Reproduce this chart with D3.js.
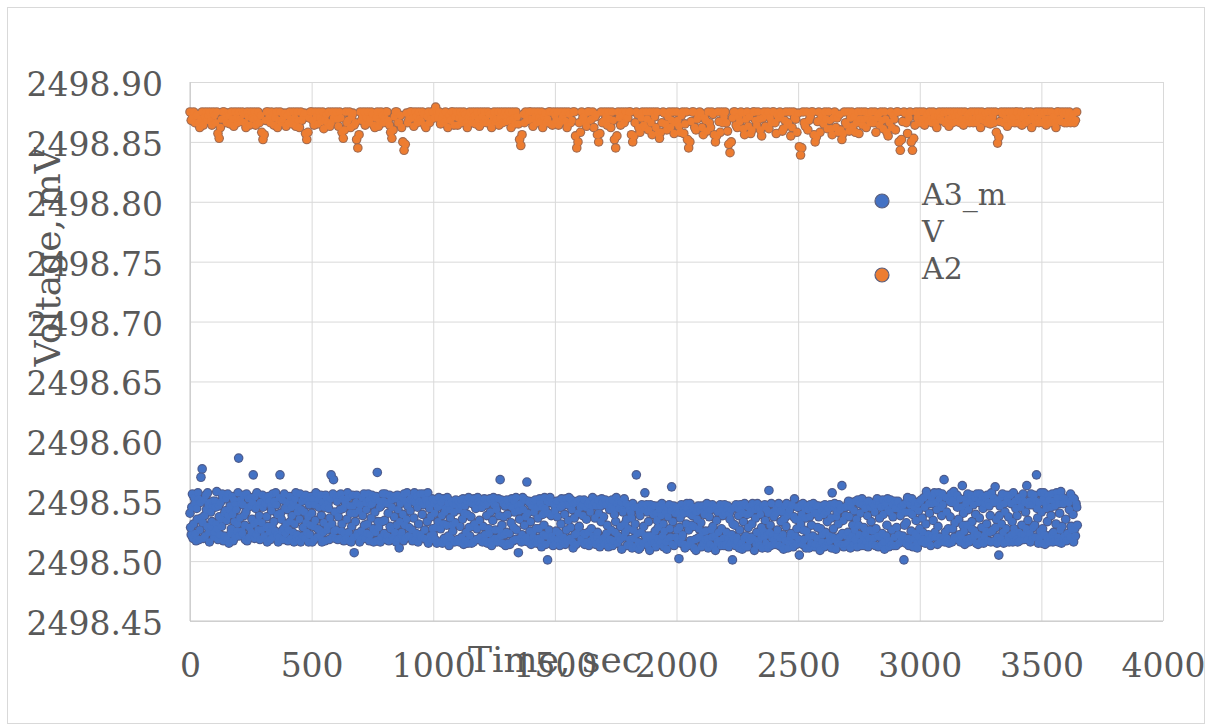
<!DOCTYPE html>
<html>
<head>
<meta charset="utf-8">
<script src="https://cdn.jsdelivr.net/npm/d3@7"></script>
<style>
  body { margin: 0; background: #fff; }
  svg text { font-family: "DejaVu Serif", serif; fill: #595959; }
</style>
</head>
<body>
<div id="chart"></div>
<script>
// A3_mV, one reading every 2.5 s (mV), 40 readings per line = 100 s
const a3Step = 2.5;
const a3Values = [
  2498.540,2498.528,2498.522,2498.545,2498.556,2498.519,2498.531,2498.553,2498.548,2498.523,2498.517,2498.544,2498.535,2498.557,2498.552,2498.518,2498.526,2498.549,2498.570,2498.536,2498.577,2498.532,2498.519,2498.551,2498.538,2498.521,2498.555,2498.543,2498.529,2498.557,2498.547,2498.524,2498.516,2498.549,2498.541,2498.529,2498.533,2498.546,2498.550,2498.520,
  2498.524,2498.550,2498.545,2498.531,2498.558,2498.527,2498.518,2498.546,2498.537,2498.522,2498.549,2498.535,2498.529,2498.556,2498.553,2498.517,2498.521,2498.540,2498.542,2498.552,2498.534,2498.519,2498.556,2498.538,2498.515,2498.543,2498.546,2498.523,2498.527,2498.554,2498.539,2498.517,2498.551,2498.533,2498.520,2498.547,2498.543,2498.525,2498.531,2498.557,
  2498.586,2498.521,2498.536,2498.551,2498.548,2498.525,2498.523,2498.547,2498.555,2498.538,2498.530,2498.518,2498.541,2498.556,2498.517,2498.545,2498.552,2498.520,2498.528,2498.553,2498.546,2498.524,2498.535,2498.549,2498.572,2498.531,2498.519,2498.554,2498.544,2498.522,2498.557,2498.533,2498.526,2498.547,2498.538,2498.518,2498.549,2498.526,2498.532,2498.555,
  2498.545,2498.519,2498.521,2498.548,2498.553,2498.528,2498.537,2498.516,2498.529,2498.554,2498.550,2498.524,2498.518,2498.546,2498.542,2498.529,2498.556,2498.520,2498.533,2498.550,2498.525,2498.557,2498.547,2498.522,2498.539,2498.516,2498.520,2498.553,2498.572,2498.540,2498.535,2498.525,2498.551,2498.518,2498.527,2498.556,2498.544,2498.523,2498.531,2498.549,
  2498.543,2498.517,2498.526,2498.549,2498.554,2498.533,2498.519,2498.545,2498.538,2498.524,2498.549,2498.516,2498.531,2498.552,2498.557,2498.520,2498.522,2498.541,2498.545,2498.518,2498.535,2498.556,2498.516,2498.543,2498.550,2498.521,2498.528,2498.553,2498.541,2498.519,2498.555,2498.532,2498.524,2498.550,2498.537,2498.516,2498.547,2498.522,2498.530,2498.554,
  2498.540,2498.516,2498.552,2498.529,2498.518,2498.547,2498.534,2498.557,2498.556,2498.520,2498.527,2498.551,2498.545,2498.526,2498.521,2498.555,2498.538,2498.516,2498.549,2498.524,2498.532,2498.545,2498.517,2498.555,2498.553,2498.526,2498.529,2498.548,2498.544,2498.518,2498.536,2498.552,2498.572,2498.531,2498.520,2498.556,2498.568,2498.525,2498.541,2498.519,
  2498.526,2498.553,2498.550,2498.518,2498.537,2498.555,2498.519,2498.543,2498.556,2498.525,2498.531,2498.552,2498.544,2498.517,2498.523,2498.550,2498.548,2498.519,2498.535,2498.557,2498.553,2498.524,2498.517,2498.546,2498.540,2498.516,2498.529,2498.555,2498.546,2498.520,2498.507,2498.540,2498.533,2498.549,2498.555,2498.523,2498.521,2498.548,2498.542,2498.516,
  2498.547,2498.518,2498.525,2498.553,2498.538,2498.520,2498.556,2498.530,2498.519,2498.549,2498.543,2498.523,2498.531,2498.556,2498.551,2498.517,2498.522,2498.547,2498.536,2498.555,2498.548,2498.527,2498.516,2498.552,2498.541,2498.524,2498.554,2498.517,2498.574,2498.533,2498.528,2498.550,2498.545,2498.516,2498.520,2498.547,2498.533,2498.556,2498.550,2498.523,
  2498.534,2498.556,2498.549,2498.518,2498.521,2498.548,2498.540,2498.517,2498.555,2498.529,2498.527,2498.551,2498.545,2498.520,2498.518,2498.554,2498.537,2498.524,2498.552,2498.516,2498.530,2498.555,2498.543,2498.519,2498.511,2498.533,2498.548,2498.522,2498.524,2498.553,2498.539,2498.517,2498.556,2498.530,2498.519,2498.550,2498.535,2498.557,2498.546,2498.521,
  2498.528,2498.551,2498.542,2498.520,2498.553,2498.526,2498.517,2498.550,2498.536,2498.557,2498.549,2498.518,2498.523,2498.554,2498.545,2498.516,2498.531,2498.550,2498.556,2498.522,2498.520,2498.549,2498.539,2498.556,2498.547,2498.519,2498.526,2498.553,2498.551,2498.518,2498.533,2498.557,2498.515,2498.548,2498.544,2498.521,2498.537,2498.518,2498.552,2498.527,
  2498.522,2498.548,2498.540,2498.518,2498.551,2498.528,2498.515,2498.545,2498.533,2498.553,2498.546,2498.516,2498.527,2498.549,2498.538,2498.515,2498.552,2498.531,2498.519,2498.541,2498.544,2498.517,2498.530,2498.553,2498.548,2498.521,2498.513,2498.543,2498.536,2498.519,2498.550,2498.530,2498.525,2498.547,2498.541,2498.516,2498.532,2498.551,2498.547,2498.517,
  2498.518,2498.550,2498.543,2498.516,2498.529,2498.547,2498.551,2498.520,2498.535,2498.552,2498.514,2498.540,2498.546,2498.517,2498.524,2498.550,2498.539,2498.515,2498.553,2498.528,2498.521,2498.549,2498.537,2498.515,2498.548,2498.529,2498.516,2498.552,2498.531,2498.547,2498.544,2498.518,2498.527,2498.553,2498.550,2498.518,2498.534,2498.548,2498.520,2498.545,
  2498.545,2498.516,2498.529,2498.549,2498.552,2498.522,2498.517,2498.547,2498.538,2498.515,2498.549,2498.527,2498.523,2498.552,2498.541,2498.517,2498.513,2498.550,2498.534,2498.553,2498.547,2498.519,2498.526,2498.546,2498.543,2498.516,2498.519,2498.552,2498.538,2498.526,2498.568,2498.521,2498.551,2498.530,2498.515,2498.548,2498.537,2498.522,2498.546,2498.513,
  2498.524,2498.551,2498.539,2498.515,2498.550,2498.523,2498.514,2498.546,2498.532,2498.552,2498.545,2498.517,2498.528,2498.550,2498.541,2498.518,2498.553,2498.526,2498.518,2498.546,2498.507,2498.542,2498.535,2498.519,2498.548,2498.516,2498.522,2498.553,2498.543,2498.517,2498.530,2498.551,2498.537,2498.520,2498.566,2498.540,2498.516,2498.550,2498.549,2498.525,
  2498.533,2498.514,2498.546,2498.524,2498.520,2498.550,2498.541,2498.516,2498.551,2498.527,2498.515,2498.545,2498.536,2498.519,2498.527,2498.552,2498.548,2498.517,2498.512,2498.545,2498.539,2498.522,2498.530,2498.553,2498.544,2498.514,2498.521,2498.550,2498.501,2498.540,2498.526,2498.549,2498.553,2498.517,2498.538,2498.521,2498.549,2498.513,2498.518,2498.547,
  2498.542,2498.515,2498.525,2498.550,2498.537,2498.518,2498.550,2498.523,2498.513,2498.545,2498.531,2498.552,2498.546,2498.516,2498.520,2498.548,2498.539,2498.514,2498.552,2498.526,2498.517,2498.547,2498.534,2498.553,2498.547,2498.519,2498.528,2498.551,2498.543,2498.516,2498.511,2498.548,2498.536,2498.522,2498.549,2498.514,2498.523,2498.550,2498.540,2498.528,
  2498.529,2498.551,2498.545,2498.518,2498.516,2498.547,2498.538,2498.523,2498.551,2498.514,2498.522,2498.545,2498.535,2498.516,2498.548,2498.524,2498.513,2498.550,2498.541,2498.517,2498.527,2498.546,2498.553,2498.521,2498.519,2498.549,2498.536,2498.514,2498.546,2498.520,2498.524,2498.551,2498.540,2498.516,2498.512,2498.546,2498.533,2498.552,2498.549,2498.519,
  2498.537,2498.514,2498.520,2498.551,2498.547,2498.523,2498.530,2498.516,2498.512,2498.550,2498.543,2498.518,2498.526,2498.546,2498.551,2498.513,2498.517,2498.544,2498.539,2498.524,2498.533,2498.553,2498.548,2498.515,2498.521,2498.550,2498.544,2498.518,2498.529,2498.549,2498.510,2498.543,2498.541,2498.520,2498.552,2498.531,2498.524,2498.548,2498.535,2498.513,
  2498.527,2498.546,2498.543,2498.518,2498.514,2498.540,2498.536,2498.511,2498.548,2498.526,2498.519,2498.545,2498.531,2498.512,2498.572,2498.523,2498.545,2498.516,2498.510,2498.541,2498.538,2498.512,2498.524,2498.547,2498.546,2498.515,2498.529,2498.543,2498.557,2498.521,2498.517,2498.547,2498.541,2498.513,2498.533,2498.521,2498.509,2498.547,2498.544,2498.516,
  2498.521,2498.546,2498.539,2498.515,2498.546,2498.525,2498.512,2498.540,2498.534,2498.519,2498.528,2498.546,2498.543,2498.514,2498.516,2498.538,2498.548,2498.521,2498.531,2498.512,2498.525,2498.545,2498.541,2498.516,2498.510,2498.545,2498.537,2498.519,2498.547,2498.527,2498.520,2498.542,2498.562,2498.514,2498.533,2498.546,2498.513,2498.545,2498.540,2498.520,
  2498.545,2498.526,2498.518,2498.540,2498.502,2498.528,2498.536,2498.515,2498.547,2498.520,2498.522,2498.543,2498.540,2498.514,2498.511,2498.545,2498.531,2498.548,2498.544,2498.513,2498.526,2498.540,2498.548,2498.517,2498.514,2498.530,2498.538,2498.545,2498.529,2498.511,2498.542,2498.518,2498.509,2498.541,2498.535,2498.519,2498.546,2498.527,2498.520,2498.543,
  2498.532,2498.512,2498.546,2498.524,2498.515,2498.541,2498.539,2498.518,2498.525,2498.545,2498.548,2498.519,2498.511,2498.542,2498.537,2498.514,2498.543,2498.526,2498.520,2498.547,2498.529,2498.512,2498.545,2498.521,2498.509,2498.543,2498.534,2498.516,2498.541,2498.524,2498.517,2498.546,2498.547,2498.513,2498.527,2498.542,2498.538,2498.519,2498.513,2498.547,
  2498.540,2498.514,2498.524,2498.543,2498.546,2498.519,2498.512,2498.540,2498.535,2498.515,2498.543,2498.522,2498.501,2498.531,2498.519,2498.545,2498.530,2498.513,2498.547,2498.520,2498.516,2498.544,2498.538,2498.511,2498.526,2498.547,2498.544,2498.515,2498.510,2498.540,2498.533,2498.519,2498.548,2498.512,2498.521,2498.546,2498.539,2498.512,2498.528,2498.545,
  2498.517,2498.540,2498.542,2498.520,2498.531,2498.548,2498.547,2498.518,2498.509,2498.543,2498.536,2498.514,2498.524,2498.548,2498.545,2498.517,2498.513,2498.544,2498.539,2498.521,2498.528,2498.511,2498.546,2498.525,2498.520,2498.547,2498.534,2498.515,2498.543,2498.522,2498.511,2498.540,2498.559,2498.524,2498.530,2498.513,2498.548,2498.519,2498.522,2498.541,
  2498.537,2498.518,2498.514,2498.540,2498.544,2498.521,2498.526,2498.545,2498.548,2498.513,2498.519,2498.542,2498.533,2498.512,2498.541,2498.522,2498.510,2498.535,2498.546,2498.517,2498.529,2498.548,2498.538,2498.511,2498.516,2498.541,2498.543,2498.520,2498.523,2498.546,2498.547,2498.515,2498.512,2498.537,2498.552,2498.521,2498.535,2498.514,2498.527,2498.545,
  2498.545,2498.518,2498.505,2498.535,2498.531,2498.547,2498.539,2498.514,2498.548,2498.526,2498.518,2498.544,2498.536,2498.511,2498.525,2498.546,2498.543,2498.520,2498.511,2498.537,2498.547,2498.515,2498.530,2498.544,2498.521,2498.548,2498.540,2498.512,2498.514,2498.540,2498.546,2498.519,2498.528,2498.546,2498.537,2498.513,2498.509,2498.527,2498.542,2498.516,
  2498.522,2498.546,2498.539,2498.512,2498.547,2498.524,2498.513,2498.541,2498.533,2498.516,2498.544,2498.521,2498.517,2498.547,2498.536,2498.511,2498.557,2498.520,2498.527,2498.545,2498.548,2498.518,2498.510,2498.537,2498.541,2498.515,2498.531,2498.547,2498.520,2498.543,2498.545,2498.514,2498.563,2498.523,2498.534,2498.512,2498.514,2498.545,2498.538,2498.521,
  2498.546,2498.515,2498.524,2498.550,2498.537,2498.519,2498.511,2498.545,2498.549,2498.521,2498.530,2498.514,2498.542,2498.526,2498.518,2498.550,2498.535,2498.512,2498.551,2498.530,2498.522,2498.548,2498.540,2498.516,2498.513,2498.552,2498.547,2498.520,2498.528,2498.513,2498.544,2498.523,2498.516,2498.549,2498.538,2498.512,2498.550,2498.519,2498.526,2498.545,
  2498.533,2498.514,2498.548,2498.525,2498.519,2498.546,2498.541,2498.513,2498.527,2498.550,2498.552,2498.521,2498.512,2498.547,2498.536,2498.520,2498.545,2498.514,2498.523,2498.551,2498.539,2498.516,2498.510,2498.546,2498.549,2498.521,2498.530,2498.552,2498.543,2498.512,2498.517,2498.541,2498.551,2498.514,2498.526,2498.547,2498.537,2498.513,2498.520,2498.550,
  2498.544,2498.513,2498.528,2498.549,2498.550,2498.522,2498.515,2498.543,2498.538,2498.517,2498.546,2498.520,2498.521,2498.547,2498.501,2498.530,2498.541,2498.515,2498.532,2498.550,2498.553,2498.519,2498.513,2498.541,2498.547,2498.518,2498.525,2498.552,2498.539,2498.512,2498.519,2498.545,2498.549,2498.523,2498.534,2498.515,2498.511,2498.548,2498.542,2498.520,
  2498.527,2498.550,2498.551,2498.516,2498.536,2498.524,2498.518,2498.553,2498.545,2498.515,2498.531,2498.558,2498.555,2498.517,2498.522,2498.548,2498.540,2498.519,2498.513,2498.553,2498.548,2498.521,2498.534,2498.556,2498.557,2498.524,2498.520,2498.549,2498.543,2498.514,2498.529,2498.557,2498.552,2498.520,2498.516,2498.545,2498.538,2498.556,2498.547,2498.519,
  2498.568,2498.516,2498.524,2498.553,2498.541,2498.519,2498.553,2498.527,2498.515,2498.550,2498.537,2498.556,2498.549,2498.516,2498.527,2498.551,2498.558,2498.520,2498.532,2498.548,2498.519,2498.555,2498.545,2498.518,2498.535,2498.522,2498.552,2498.516,2498.521,2498.545,2498.563,2498.530,2498.540,2498.525,2498.514,2498.552,2498.548,2498.518,2498.530,2498.556,
  2498.543,2498.516,2498.519,2498.550,2498.555,2498.527,2498.533,2498.518,2498.547,2498.521,2498.525,2498.553,2498.539,2498.515,2498.556,2498.522,2498.514,2498.549,2498.536,2498.556,2498.550,2498.517,2498.528,2498.554,2498.544,2498.515,2498.521,2498.548,2498.553,2498.525,2498.531,2498.555,2498.517,2498.549,2498.546,2498.524,2498.538,2498.516,2498.557,2498.525,
  2498.526,2498.553,2498.549,2498.517,2498.562,2498.528,2498.535,2498.515,2498.520,2498.551,2498.505,2498.538,2498.546,2498.519,2498.531,2498.554,2498.556,2498.524,2498.515,2498.548,2498.541,2498.516,2498.527,2498.555,2498.552,2498.520,2498.537,2498.516,2498.518,2498.555,2498.548,2498.522,2498.533,2498.516,2498.557,2498.527,2498.523,2498.550,2498.544,2498.518,
  2498.538,2498.516,2498.553,2498.524,2498.517,2498.550,2498.545,2498.522,2498.530,2498.551,2498.556,2498.518,2498.522,2498.549,2498.541,2498.527,2498.563,2498.518,2498.534,2498.547,2498.550,2498.523,2498.516,2498.556,2498.547,2498.519,2498.528,2498.552,2498.555,2498.530,2498.520,2498.550,2498.572,2498.544,2498.536,2498.515,2498.549,2498.520,2498.525,2498.557,
  2498.541,2498.515,2498.527,2498.552,2498.557,2498.522,2498.514,2498.548,2498.544,2498.519,2498.533,2498.555,2498.551,2498.516,2498.519,2498.545,2498.538,2498.522,2498.556,2498.516,2498.524,2498.550,2498.546,2498.517,2498.531,2498.557,2498.553,2498.520,2498.516,2498.548,2498.540,2498.526,2498.558,2498.515,2498.529,2498.553,2498.548,2498.518,2498.521,2498.552,
  2498.535,2498.517,2498.550,2498.523,2498.518,2498.549,2498.543,2498.520,2498.556,2498.529,2498.526,2498.553,2498.539,2498.516,2498.552,2498.527,2498.521,2498.548,2498.545,2498.530
];

// A2, one reading every 5 s (mV), 40 readings per line = 200 s
const a2Step = 5;
const a2Values = [
  2498.875,2498.868,2498.870,2498.875,2498.866,2498.872,2498.873,2498.866,2498.862,2498.869,2498.875,2498.864,2498.871,2498.875,2498.868,2498.872,2498.875,2498.867,2498.864,2498.875,2498.872,2498.866,2498.875,2498.857,2498.853,2498.862,2498.869,2498.875,2498.875,2498.870,2498.866,2498.874,2498.872,2498.865,2498.875,2498.869,2498.863,2498.875,2498.870,2498.866,
  2498.875,2498.869,2498.867,2498.875,2498.873,2498.866,2498.862,2498.875,2498.871,2498.864,2498.875,2498.870,2498.869,2498.875,2498.864,2498.871,2498.875,2498.866,2498.872,2498.858,2498.852,2498.856,2498.868,2498.875,2498.875,2498.870,2498.866,2498.875,2498.873,2498.864,2498.870,2498.875,2498.862,2498.868,2498.875,2498.866,2498.869,2498.872,2498.874,2498.863,
  2498.872,2498.866,2498.875,2498.869,2498.865,2498.875,2498.870,2498.863,2498.875,2498.868,2498.862,2498.875,2498.868,2498.871,2498.874,2498.857,2498.852,2498.858,2498.870,2498.875,2498.875,2498.868,2498.864,2498.875,2498.871,2498.865,2498.875,2498.870,2498.867,2498.875,2498.861,2498.869,2498.873,2498.866,2498.875,2498.863,2498.866,2498.875,2498.870,2498.872,
  2498.875,2498.869,2498.863,2498.875,2498.870,2498.858,2498.853,2498.860,2498.875,2498.866,2498.868,2498.875,2498.862,2498.871,2498.874,2498.864,2498.866,2498.852,2498.845,2498.856,2498.875,2498.868,2498.871,2498.875,2498.864,2498.870,2498.875,2498.866,2498.869,2498.875,2498.873,2498.864,2498.862,2498.870,2498.875,2498.863,2498.867,2498.875,2498.872,2498.866,
  2498.870,2498.875,2498.875,2498.868,2498.864,2498.858,2498.853,2498.860,2498.871,2498.875,2498.875,2498.866,2498.866,2498.872,2498.862,2498.850,2498.843,2498.848,2498.874,2498.866,2498.869,2498.875,2498.875,2498.870,2498.863,2498.875,2498.871,2498.866,2498.875,2498.869,2498.867,2498.875,2498.873,2498.864,2498.862,2498.871,2498.875,2498.866,2498.869,2498.875,
  2498.875,2498.870,2498.879,2498.875,2498.870,2498.875,2498.865,2498.870,2498.873,2498.866,2498.875,2498.869,2498.862,2498.872,2498.868,2498.875,2498.875,2498.864,2498.871,2498.875,2498.864,2498.870,2498.875,2498.866,2498.869,2498.875,2498.873,2498.866,2498.862,2498.871,2498.875,2498.868,2498.866,2498.875,2498.872,2498.865,2498.875,2498.869,2498.863,2498.875,
  2498.871,2498.866,2498.875,2498.869,2498.866,2498.875,2498.873,2498.866,2498.862,2498.871,2498.875,2498.867,2498.869,2498.875,2498.864,2498.870,2498.875,2498.866,2498.872,2498.875,2498.867,2498.872,2498.875,2498.868,2498.862,2498.875,2498.870,2498.865,2498.875,2498.871,2498.865,2498.852,2498.847,2498.856,2498.873,2498.866,2498.875,2498.870,2498.868,2498.875,
  2498.875,2498.869,2498.863,2498.875,2498.871,2498.866,2498.875,2498.870,2498.867,2498.875,2498.862,2498.871,2498.874,2498.866,2498.869,2498.875,2498.875,2498.865,2498.864,2498.875,2498.872,2498.868,2498.875,2498.864,2498.866,2498.875,2498.870,2498.872,2498.875,2498.867,2498.862,2498.875,2498.873,2498.866,2498.868,2498.875,2498.875,2498.855,2498.845,2498.850,
  2498.866,2498.858,2498.875,2498.870,2498.871,2498.866,2498.863,2498.875,2498.875,2498.868,2498.869,2498.875,2498.862,2498.871,2498.873,2498.856,2498.850,2498.857,2498.875,2498.866,2498.867,2498.875,2498.871,2498.864,2498.875,2498.869,2498.862,2498.875,2498.868,2498.852,2498.845,2498.855,2498.875,2498.870,2498.864,2498.875,2498.872,2498.866,2498.875,2498.870,
  2498.870,2498.875,2498.875,2498.856,2498.850,2498.855,2498.866,2498.875,2498.873,2498.862,2498.858,2498.870,2498.875,2498.864,2498.862,2498.875,2498.869,2498.860,2498.875,2498.866,2498.856,2498.875,2498.871,2498.862,2498.875,2498.857,2498.853,2498.858,2498.866,2498.875,2498.874,2498.865,2498.860,2498.871,2498.875,2498.862,2498.868,2498.875,2498.857,2498.866,
  2498.875,2498.868,2498.863,2498.858,2498.872,2498.875,2498.857,2498.865,2498.875,2498.852,2498.845,2498.850,2498.867,2498.875,2498.875,2498.862,2498.860,2498.869,2498.871,2498.875,2498.874,2498.862,2498.856,2498.870,2498.868,2498.859,2498.875,2498.866,2498.862,2498.875,2498.873,2498.856,2498.850,2498.855,2498.875,2498.867,2498.858,2498.875,2498.866,2498.871,
  2498.875,2498.866,2498.859,2498.848,2498.841,2498.850,2498.870,2498.875,2498.875,2498.864,2498.862,2498.871,2498.867,2498.875,2498.874,2498.861,2498.856,2498.869,2498.875,2498.863,2498.871,2498.857,2498.860,2498.875,2498.875,2498.868,2498.864,2498.875,2498.869,2498.860,2498.855,2498.870,2498.875,2498.863,2498.872,2498.875,2498.861,2498.870,2498.866,2498.875,
  2498.875,2498.866,2498.857,2498.872,2498.870,2498.875,2498.873,2498.859,2498.861,2498.868,2498.875,2498.864,2498.866,2498.875,2498.855,2498.862,2498.875,2498.870,2498.869,2498.858,2498.874,2498.846,2498.839,2498.845,2498.875,2498.866,2498.863,2498.875,2498.860,2498.868,2498.871,2498.875,2498.875,2498.856,2498.850,2498.854,2498.867,2498.875,2498.858,2498.870,
  2498.872,2498.865,2498.875,2498.869,2498.861,2498.875,2498.868,2498.861,2498.856,2498.870,2498.875,2498.862,2498.870,2498.858,2498.873,2498.860,2498.852,2498.857,2498.875,2498.866,2498.864,2498.875,2498.859,2498.870,2498.875,2498.863,2498.871,2498.858,2498.866,2498.875,2498.857,2498.869,2498.875,2498.864,2498.869,2498.875,2498.862,2498.870,2498.874,2498.866,
  2498.875,2498.869,2498.866,2498.875,2498.858,2498.870,2498.873,2498.864,2498.875,2498.868,2498.861,2498.875,2498.869,2498.858,2498.855,2498.866,2498.875,2498.862,2498.872,2498.869,2498.860,2498.875,2498.875,2498.850,2498.843,2498.852,2498.867,2498.875,2498.874,2498.866,2498.857,2498.870,2498.875,2498.850,2498.843,2498.853,2498.864,2498.875,2498.870,2498.866,
  2498.875,2498.866,2498.869,2498.875,2498.864,2498.870,2498.873,2498.867,2498.875,2498.869,2498.866,2498.875,2498.871,2498.866,2498.862,2498.872,2498.875,2498.870,2498.868,2498.875,2498.874,2498.866,2498.875,2498.869,2498.863,2498.875,2498.870,2498.866,2498.875,2498.871,2498.867,2498.875,2498.872,2498.866,2498.875,2498.869,2498.864,2498.875,2498.869,2498.872,
  2498.873,2498.866,2498.875,2498.869,2498.866,2498.875,2498.870,2498.866,2498.875,2498.870,2498.862,2498.875,2498.868,2498.872,2498.874,2498.866,2498.875,2498.869,2498.865,2498.875,2498.871,2498.866,2498.875,2498.858,2498.849,2498.854,2498.867,2498.875,2498.873,2498.866,2498.875,2498.869,2498.863,2498.875,2498.870,2498.866,2498.875,2498.870,2498.866,2498.875,
  2498.875,2498.866,2498.871,2498.875,2498.864,2498.870,2498.873,2498.866,2498.875,2498.869,2498.868,2498.875,2498.862,2498.871,2498.870,2498.866,2498.875,2498.869,2498.866,2498.875,2498.873,2498.866,2498.875,2498.869,2498.864,2498.875,2498.869,2498.866,2498.875,2498.870,2498.871,2498.866,2498.862,2498.875,2498.875,2498.869,2498.867,2498.875,2498.873,2498.866,
  2498.875,2498.866,2498.870,2498.875,2498.866,2498.869,2498.873,2498.866,2498.868,2498.875
];

const seriesNames = ["A3_mV", "A2"];
const legendLines = [["A3_m", "V"], ["A2"]];
const seriesColors = ["#4472C4", "#ED7D31"];
const markerStroke = ["#4d5b8c", "#a06a50"];
const xTicks = [0, 500, 1000, 1500, 2000, 2500, 3000, 3500, 4000];
const yTicks = [2498.45, 2498.50, 2498.55, 2498.60, 2498.65, 2498.70, 2498.75, 2498.80, 2498.85, 2498.90];

const W = 1213, H = 724;
const margin = {top: 82, right: 50, bottom: 103, left: 190};
const width = W - margin.left - margin.right,
      height = H - margin.top - margin.bottom;

const svg = d3.select("#chart").append("svg")
  .attr("width", W)
  .attr("height", H);

// chart frame
svg.append("rect")
  .attr("x", 7.5).attr("y", 7.5)
  .attr("width", W - 16).attr("height", H - 8)
  .attr("fill", "none")
  .attr("stroke", "#d9d9d9");

const g = svg.append("g")
  .attr("transform", `translate(${margin.left},${margin.top})`);

const x = d3.scaleLinear().domain([0, 4000]).range([0, width]);
const y = d3.scaleLinear().domain([2498.45, 2498.90]).range([height, 0]);

// gridlines + tick labels
const yAxis = g.append("g")
  .call(d3.axisLeft(y).tickValues(yTicks).tickSize(-width).tickPadding(27).tickFormat(d3.format(".2f")));
yAxis.select(".domain").remove();
yAxis.selectAll("line").attr("stroke", "#d9d9d9");
yAxis.selectAll("text")
  .attr("dy", "0.41em")
  .style("font-size", "33px");

const xAxis = g.append("g")
  .attr("transform", `translate(0,${height})`)
  .call(d3.axisBottom(x).tickValues(xTicks).tickSize(-height).tickFormat(d3.format("d")));
xAxis.select(".domain").remove();
xAxis.selectAll("line").attr("stroke", "#d9d9d9");
xAxis.selectAll("text")
  .attr("dy", null)
  .attr("y", 56)
  .style("font-size", "33px");

// axis lines
g.append("line").attr("x1", 0).attr("x2", 0).attr("y1", 0).attr("y2", height)
  .attr("stroke", "#c6c6c6");
g.append("line").attr("x1", 0).attr("x2", width).attr("y1", height).attr("y2", height)
  .attr("stroke", "#c6c6c6");

// points: dark outline discs first, fills on top, so overlapping
// markers merge into one band with a dark rim
const allSeries = [
  a3Values.map((v, i) => ({t: i * a3Step, v: v})),
  a2Values.map((v, i) => ({t: i * a2Step, v: v}))
];
const r = 4.8;

allSeries.forEach((pts, si) => {
  g.append("g")
    .selectAll("circle")
    .data(pts)
    .join("circle")
    .attr("cx", d => x(d.t))
    .attr("cy", d => y(d.v))
    .attr("r", r)
    .attr("fill", markerStroke[si]);
  g.append("g")
    .selectAll("circle")
    .data(pts)
    .join("circle")
    .attr("cx", d => x(d.t))
    .attr("cy", d => y(d.v))
    .attr("r", r - 1.1)
    .attr("fill", seriesColors[si]);
});

// axis titles
svg.append("text")
  .attr("transform", "translate(60,257) rotate(-90)")
  .attr("text-anchor", "middle")
  .style("font-size", "36px")
  .text("Voltage, mV");

svg.append("text")
  .attr("x", 555)
  .attr("y", 672)
  .attr("text-anchor", "middle")
  .style("font-size", "36px")
  .text("Time, sec");

// legend
const legendY = [201, 275];
const legend = svg.append("g");
seriesNames.forEach((name, i) => {
  legend.append("circle")
    .attr("cx", 882)
    .attr("cy", legendY[i])
    .attr("r", 7)
    .attr("fill", seriesColors[i])
    .attr("stroke", "#5a5f7d")
    .attr("stroke-width", 1.2);
  const t = legend.append("text")
    .attr("x", 922)
    .attr("y", legendY[i] + 4)
    .style("font-size", "30px");
  legendLines[i].forEach((ln, j) => {
    t.append("tspan")
      .attr("x", 922)
      .attr("dy", j === 0 ? 0 : 37)
      .text(ln);
  });
});
</script>
</body>
</html>
